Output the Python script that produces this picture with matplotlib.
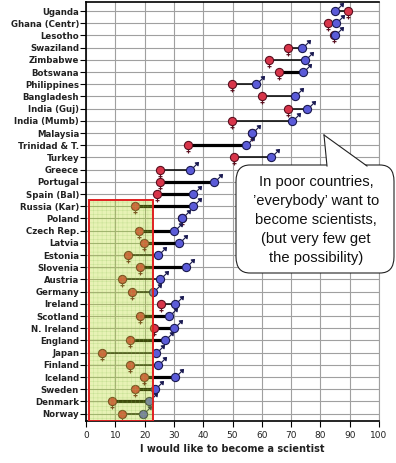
import numpy as np
import matplotlib
matplotlib.use('Agg')
import matplotlib.pyplot as plt
from matplotlib.path import Path
from matplotlib.patches import Rectangle, FancyBboxPatch, Polygon
from matplotlib.lines import Line2D

countries = ['Uganda', 'Ghana (Centr)', 'Lesotho', 'Swaziland', 'Zimbabwe', 'Botswana',
             'Philippines', 'Bangladesh', 'India (Guj)', 'India (Mumb)', 'Malaysia',
             'Trinidad & T.', 'Turkey', 'Greece', 'Portugal', 'Spain (Bal)', 'Russia (Kar)',
             'Poland', 'Czech Rep.', 'Latvia', 'Estonia', 'Slovenia', 'Austria', 'Germany',
             'Ireland', 'Scotland', 'N. Ireland', 'England', 'Japan', 'Finland', 'Iceland',
             'Sweden', 'Denmark', 'Norway']
girls = [89.3, 82.7, 84.8, 69.0, 62.5, 65.9, 49.9, 60.0, 68.8, 49.9, 56.6, 34.7, 50.6,
         25.3, 25.3, 24.1, 16.7, 32.6, 18.2, 19.9, 14.4, 18.4, 12.2, 15.6, 25.6, 18.4,
         23.2, 15.0, 5.4, 15.0, 19.9, 16.7, 9.0, 12.2]
boys = [85.0, 85.2, 85.0, 73.6, 74.7, 74.2, 58.0, 71.3, 75.5, 70.2, 56.5, 54.6, 63.1,
        35.5, 43.8, 36.6, 36.6, 32.7, 30.1, 31.7, 24.5, 34.1, 25.3, 23.0, 30.4, 28.4,
        30.0, 27.0, 23.8, 24.5, 30.4, 23.5, 21.6, 19.6]
# 1 = thick connecting line
thick = [0, 0, 0, 0, 0, 1, 0, 0, 0, 0, 0, 1, 0,
         0, 1, 1, 1, 0, 1, 1, 0, 1, 0, 0, 0, 1,
         1, 1, 0, 0, 1, 1, 1, 0]
xticks = list(range(0, 101, 10))
box_x = (1.0, 22.8)
callout = "In poor countries,\n\u2019everybody\u2019 want to\nbecome scientists,\n(but very few get\nthe possibility)"

plt.rcParams['hatch.linewidth'] = 0.35


def male_marker():
    circ = Path.circle((0, 0), 1.0)
    shaft = Path([(0.7, 0.7), (1.75, 1.75)], [Path.MOVETO, Path.LINETO])
    head = Path([(1.95, 1.95), (1.15, 1.85), (1.85, 1.15), (1.95, 1.95)],
                [Path.MOVETO, Path.LINETO, Path.LINETO, Path.CLOSEPOLY])
    return Path.make_compound_path(circ, shaft, head)


def female_marker():
    circ = Path.circle((0, 0), 1.0)
    stem = Path([(0, -1.0), (0, -1.95)], [Path.MOVETO, Path.LINETO])
    bar = Path([(-0.5, -1.5), (0.5, -1.5)], [Path.MOVETO, Path.LINETO])
    return Path.make_compound_path(circ, stem, bar)


fig = plt.figure(figsize=(3.96, 4.63), dpi=100)
ax = fig.add_axes([86 / 396, 42 / 463, 293 / 396, 419 / 463])

y = np.arange(len(countries))
for i in range(len(countries)):
    ax.plot([girls[i], boys[i]], [y[i], y[i]], color='black',
            lw=2.3 if thick[i] else 1.1, zorder=3, solid_capstyle='butt')

ax.plot(girls, y, ls='none', marker=female_marker(), ms=11.5, mfc='#d8354a',
        mec='#5a1020', mew=0.8, zorder=4)
ax.plot(boys, y, ls='none', marker=male_marker(), ms=11.5, mfc='#5b5bd8',
        mec='#1a1a50', mew=0.8, zorder=5)

# shaded region (drawn over the marks)
y0, y1 = 15.5, 33.6
ax.add_patch(Rectangle((box_x[0], y0), box_x[1] - box_x[0], y1 - y0,
                       facecolor=(0.72, 0.85, 0.12), alpha=0.33, lw=0, zorder=6))
ax.add_patch(Rectangle((box_x[0], y0), box_x[1] - box_x[0], y1 - y0,
                       facecolor='none', edgecolor=(0.55, 0.75, 0.35, 0.35), lw=0,
                       hatch='++++', zorder=6))
ax.add_patch(Rectangle((box_x[0], y0), box_x[1] - box_x[0], y1 - y0,
                       facecolor='none', edgecolor='#e02020', lw=1.4, zorder=7))

ax.set_xlim(0, 100)
ax.set_ylim(33.6, -0.74)
ax.set_xticks(xticks)
ax.set_yticks(y)
ax.set_yticklabels(countries, fontsize=6.2, fontweight='bold', color='#222222')
ax.tick_params(axis='y', length=4.5, width=0.8, pad=0.5)
ax.tick_params(axis='x', length=4, width=0.8, pad=3, labelsize=6.5, labelcolor='#222222')
ax.set_xlabel('I would like to become a scientist', fontsize=7, fontweight='bold',
              color='#222222', labelpad=3)
ax.grid(True, color='#a0a0a0', lw=0.8)
ax.set_axisbelow(True)
for s in ['top', 'left', 'bottom']:
    ax.spines[s].set_linewidth(1.2)
ax.spines['right'].set_color('#a0a0a0')
ax.spines['right'].set_linewidth(0.8)


# callout bubble, in figure pixels
def fx(px):
    return px / 396


def fy(py):
    return 1 - py / 463


bubble = FancyBboxPatch((fx(236), fy(273)), fx(394) - fx(236), fy(165) - fy(273),
                        boxstyle='round,pad=0,rounding_size=0.035',
                        transform=fig.transFigure, facecolor='white',
                        edgecolor='#222222', lw=0.8, zorder=10, clip_on=False)
fig.patches.append(bubble)
tail = Polygon([(fx(327), fy(166.5)), (fx(324), fy(135)), (fx(367), fy(166.5))],
               closed=True, transform=fig.transFigure, facecolor='white',
               edgecolor='none', zorder=11)
fig.patches.append(tail)
for a, b in [((327, 166), (324, 135)), ((324, 135), (367, 166))]:
    fig.lines.append(Line2D([fx(a[0]), fx(b[0])], [fy(a[1]), fy(b[1])],
                            transform=fig.transFigure, color='#222222', lw=0.8,
                            zorder=12))
fig.text(fx(316), fy(220), callout, ha='center', va='center', fontsize=10.6,
         family='Liberation Sans', linespacing=1.45, color='#111111', zorder=13)

fig.savefig('out.png', dpi=100)
